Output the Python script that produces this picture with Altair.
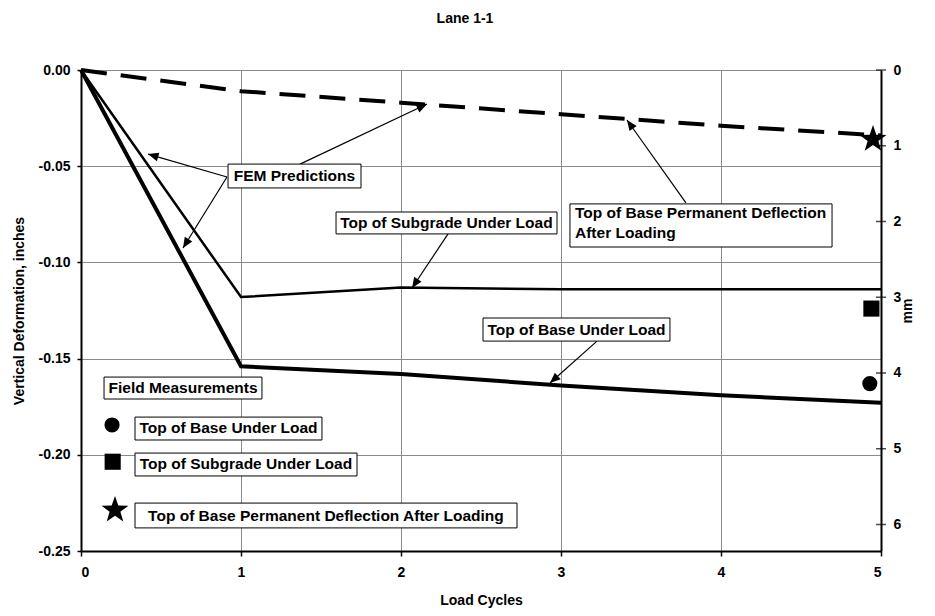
import math
import altair as alt
import pandas as pd

# ---------------- data ----------------
cycles = [0, 1, 2, 3, 4, 5]
base_under_load = [0.0, -0.154, -0.158, -0.164, -0.169, -0.173]
subgrade_under_load = [0.0, -0.118, -0.113, -0.114, -0.114, -0.114]
base_permanent = [0.0, -0.011, -0.017, -0.023, -0.029, -0.034]

field_labels = ["Top of Base Under Load", "Top of Subgrade Under Load",
                "Top of Base Permanent Deflection After Loading"]
field_shapes = ["circle", "square", "star"]
field_cycles = [4.93, 4.94, 4.95]
field_values = [-0.163, -0.124, -0.036]

legend_x = [0.194, 0.198, 0.2125]
legend_y = [-0.1845, -0.2036, -0.2287]

y_ticks = [0.0, -0.05, -0.10, -0.15, -0.20, -0.25]
mm_ticks = [0, 1, 2, 3, 4, 5, 6]

# annotation boxes (data units)
box_x1 = [0.919, 1.594, 3.056, 2.5125, 0.144, 0.3375, 0.3375, 0.3375]
box_x2 = [1.750, 2.975, 4.694, 3.681, 1.131, 1.506, 1.725, 2.725]
box_y1 = [-0.0489, -0.0738, -0.0696, -0.1289, -0.1596, -0.1804, -0.1991, -0.2251]
box_y2 = [-0.0613, -0.0852, -0.0920, -0.1409, -0.1710, -0.1923, -0.2110, -0.2380]

center_text = ["FEM Predictions", "Top of Subgrade Under Load", "Top of Base Under Load",
               "Field Measurements", "Top of Base Under Load", "Top of Subgrade Under Load",
               "Top of Base Permanent Deflection After Loading"]
center_x = [1.334, 2.284, 3.097, 0.6375, 0.922, 1.031, 1.531]
center_y = [-0.0551, -0.0795, -0.1349, -0.1653, -0.1863, -0.2050, -0.2316]

left_text = ["Top of Base Permanent Deflection", "After Loading"]
left_x = [3.0875, 3.0875]
left_y = [-0.0743, -0.0847]

# arrows: start -> end (data units)
arrow_x1 = [0.9125, 0.9125, 1.369, 2.294, 3.225, 3.781]
arrow_y1 = [-0.0556, -0.0556, -0.0489, -0.0852, -0.1409, -0.0691]
arrow_x2 = [0.419, 0.6375, 2.1625, 2.069, 2.931, 3.4125]
arrow_y2 = [-0.0437, -0.0925, -0.0177, -0.1133, -0.1627, -0.0260]

# ---------------- layout ----------------
W, H = 800, 481
PX_PER_X = W / 5.0
PX_PER_Y = H / 0.25
FONT = "Liberation Sans"
GRID = "#8a8a8a"

angles = []
for sx, sy, ex, ey in zip(arrow_x1, arrow_y1, arrow_x2, arrow_y2):
    dx = (ex - sx) * PX_PER_X
    dy = -(ey - sy) * PX_PER_Y
    angles.append(math.degrees(math.atan2(dx, -dy)) % 360)

# star path
pts = []
for k in range(10):
    r = 1.0 if k % 2 == 0 else 0.4
    a = math.radians(-90 + 36 * k)
    pts.append(f"{r*math.cos(a):.3f},{r*math.sin(a):.3f}")
STAR = "M" + " L".join(pts) + " Z"
HEAD = "M0,0 L0.42,1 L-0.42,1 Z"

label_style = dict(labelFont=FONT, labelFontSize=14, labelFontWeight="bold",
                   labelColor="black", titleFont=FONT, titleFontSize=14,
                   titleFontWeight="bold", titleColor="black",
                   domainColor="black", domainWidth=2, tickColor="black", tickWidth=1.5)

X = alt.X("x:Q", scale=alt.Scale(domain=[0, 5], nice=False),
          axis=alt.Axis(values=cycles, format="d", title="Load Cycles",
                        grid=True, gridColor=GRID, gridWidth=1,
                        tickSize=5, labelPadding=9, titlePadding=14, **label_style))
Y = alt.Y("y:Q", scale=alt.Scale(domain=[-0.25, 0], nice=False),
          axis=alt.Axis(values=y_ticks, title="Vertical Deformation, inches",
                        labelExpr="datum.value == 0 ? '0.00' : '-' + format(-datum.value, '.2f')",
                        grid=True, gridColor=GRID, gridWidth=1,
                        tickSize=4, labelPadding=7, titlePadding=12, **label_style))

lines_df = pd.DataFrame({
    "x": cycles * 3,
    "y": base_under_load + subgrade_under_load + base_permanent,
    "s": ["base"] * 6 + ["sub"] * 6 + ["perm"] * 6,
})

base_line = alt.Chart(lines_df).transform_filter(alt.datum.s == "base").mark_line(
    color="black", strokeWidth=4).encode(x=X, y=Y)
sub_line = alt.Chart(lines_df).transform_filter(alt.datum.s == "sub").mark_line(
    color="black", strokeWidth=2.5).encode(x=X, y=Y)
perm_line = alt.Chart(lines_df).transform_filter(alt.datum.s == "perm").mark_line(
    color="black", strokeWidth=4, strokeDash=[26, 14]).encode(x=X, y=Y)

box_df = pd.DataFrame({"x": box_x1, "x2": box_x2, "y": box_y1, "y2": box_y2})
boxes = alt.Chart(box_df).mark_rect(fill="white", stroke="black", strokeWidth=1).encode(
    x=X, x2="x2:Q", y=Y, y2="y2:Q")

ctext_df = pd.DataFrame({"x": center_x, "y": center_y, "t": center_text})
ctexts = alt.Chart(ctext_df).mark_text(font=FONT, fontSize=15.5, fontWeight="bold",
                                       color="black", align="center", baseline="middle").encode(
    x=X, y=Y, text="t:N")
ltext_df = pd.DataFrame({"x": left_x, "y": left_y, "t": left_text})
ltexts = alt.Chart(ltext_df).mark_text(font=FONT, fontSize=15.5, fontWeight="bold",
                                       color="black", align="left", baseline="middle").encode(
    x=X, y=Y, text="t:N")

arrow_df = pd.DataFrame({"x": arrow_x1, "y": arrow_y1, "x2": arrow_x2, "y2": arrow_y2})
arrow_lines = alt.Chart(arrow_df).mark_rule(color="black", strokeWidth=1.2).encode(
    x=X, y=Y, x2="x2:Q", y2="y2:Q")
head_df = pd.DataFrame({"x": arrow_x2, "y": arrow_y2, "ang": angles})
heads = alt.Chart(head_df).mark_point(shape=HEAD, filled=True, color="black", size=440,
                                      opacity=1).encode(
    x=X, y=Y, angle=alt.Angle("ang:Q", scale=None))

mk_df = pd.DataFrame({
    "x": field_cycles + legend_x,
    "y": field_values + legend_y,
    "shape": field_shapes * 2,
})
circles = alt.Chart(mk_df).transform_filter(alt.datum.shape == "circle").mark_point(
    shape="circle", filled=True, color="black", size=230, opacity=1).encode(x=X, y=Y)
squares = alt.Chart(mk_df).transform_filter(alt.datum.shape == "square").mark_point(
    shape="square", filled=True, color="black", size=260, opacity=1).encode(x=X, y=Y)
stars = alt.Chart(mk_df).transform_filter(alt.datum.shape == "star").mark_point(
    shape=STAR, filled=True, color="black", size=800, opacity=1).encode(x=X, y=Y)

left = alt.layer(perm_line, sub_line, base_line, arrow_lines, heads, boxes, ctexts, ltexts,
                 circles, squares, stars)

# right-hand mm axis, with tick marks crossing the axis line
mm_df = pd.DataFrame({"mm": mm_ticks, "x": [5] * len(mm_ticks)})
right = alt.Chart(mm_df).mark_tick(orient="horizontal", color="black", size=10,
                                   thickness=1.5).encode(
    x=X,
    y=alt.Y("mm:Q", scale=alt.Scale(domain=[0, 6.35], reverse=True, nice=False),
            axis=alt.Axis(orient="right", values=mm_ticks, format="d", title="mm",
                          grid=False, ticks=False, labelPadding=12,
                          titlePadding=14, titleAngle=270, **label_style)))

chart = alt.layer(left, right).resolve_scale(y="independent").properties(
    width=W, height=H,
    autosize=alt.AutoSizeParams(type="none"),
    padding={"left": 73, "top": 62, "right": 46, "bottom": 57},
    title=alt.TitleParams("Lane 1-1", font=FONT, fontSize=14, fontWeight="bold",
                          color="black", frame="group", anchor="middle", dx=-16, offset=36),
    background="white",
).configure_view(stroke=None)

chart.save("out.html", embed_options={"renderer": "svg", "actions": False})
